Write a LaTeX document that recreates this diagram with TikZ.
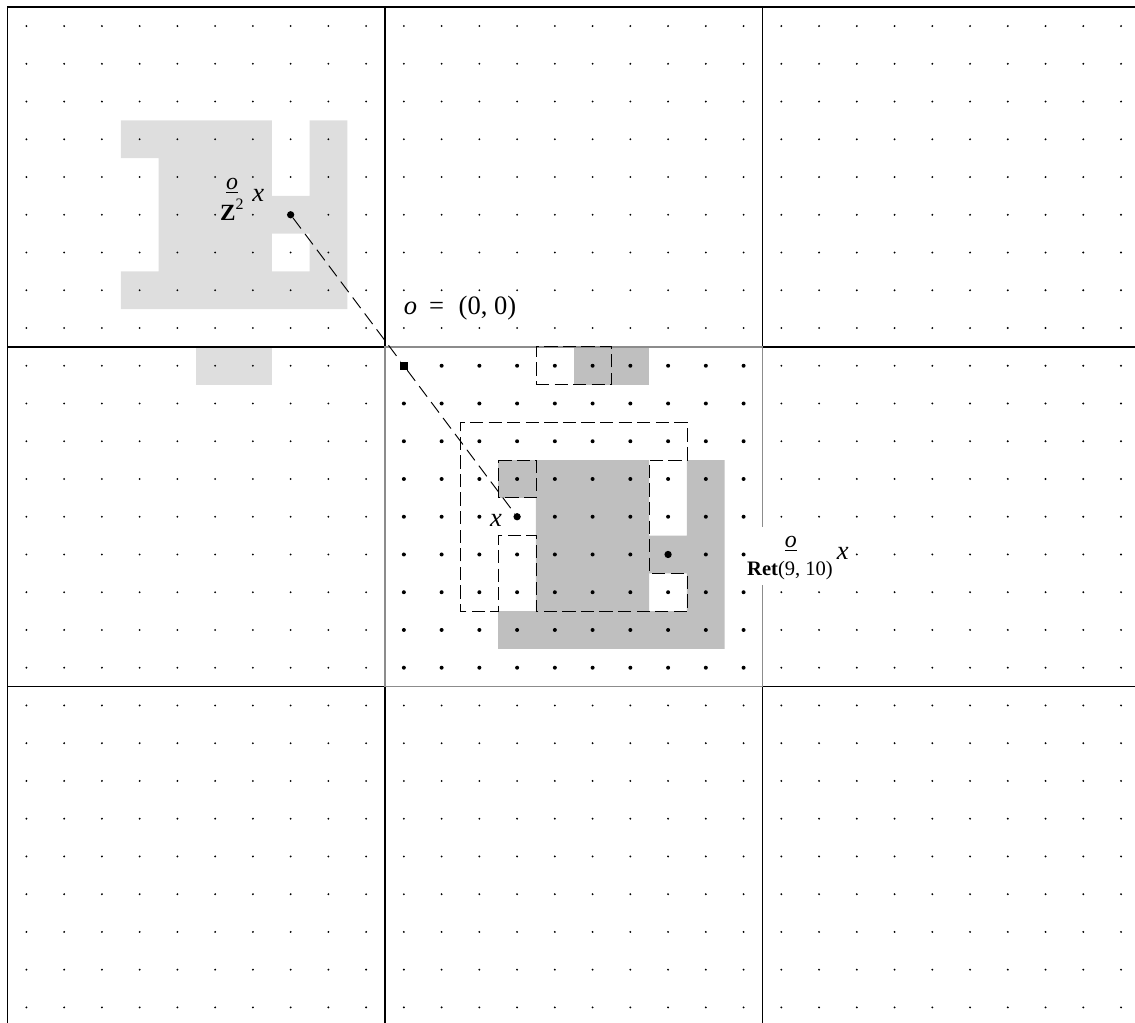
\documentclass[tikz,border=0pt]{standalone}
\usepackage{fontspec}
\setmainfont{Liberation Serif}
\begin{document}
\begin{tikzpicture}[x=1cm,y=1cm,
  blk/.style={draw=black, line width=1.05pt},
  midblk/.style={draw=black!45, line width=1.05pt},
  ptnode/.style={circle, fill=black, inner sep=0pt, minimum size=5.5pt},
  sqnode/.style={rectangle, fill=black, inner sep=0pt, minimum size=6.3pt},
  dsh/.style={draw=black, line width=0.7pt, dash pattern=on 10pt off 4pt},
  diag/.style={draw=black, line width=0.7pt, dash pattern=on 10pt off 5pt},
  lightg/.style={fill=black!13},
  darkg/.style={fill=black!25},
  smalllab/.style={inner sep=0pt, anchor=base, font=\fontsize{15.5}{18}\selectfont},
  olab/.style={inner sep=0pt, anchor=base, font=\fontsize{18}{20}\selectfont},
  biglab/.style={inner sep=0pt, anchor=base, font=\fontsize{20}{24}\selectfont},
]
\useasboundingbox (-10.2,-17.91) rectangle (19.87,9.19);

% light grey shape in Z^2
\fill[lightg, even odd rule]
  (-7,6) -- (-3,6) -- (-3,4) -- (-2,4) -- (-2,6) -- (-1,6) -- (-1,1) -- (-7,1)
  -- (-7,2) -- (-6,2) -- (-6,5) -- (-7,5) -- cycle
  (-3,2) -- (-2,2) -- (-2,3) -- (-3,3) -- cycle;
\fill[lightg] (-5,-1) rectangle (-3,0);

% dark grey shape in Ret(9,10)
\fill[darkg, even odd rule]
  (3,-3) -- (7,-3) -- (7,-5) -- (8,-5) -- (8,-3) -- (9,-3) -- (9,-8) -- (3,-8)
  -- (3,-7) -- (4,-7) -- (4,-4) -- (3,-4) -- cycle
  (7,-7) -- (8,-7) -- (8,-6) -- (7,-6) -- cycle;
\fill[darkg] (5,-1) rectangle (7,0);

% dots
\foreach \i in {-10,...,19}{
  \foreach \j in {-18,...,8}{
    \fill (\i+0.5,\j+0.5) circle (0.8pt);
  }
}
\foreach \i in {0,...,9}{
  \foreach \j in {-9,...,-1}{
    \fill (\i+0.5,\j+0.5) circle (1.5pt);
  }
}

% blocks
\foreach \a in {-10,0,10}{
  \foreach \b in {-18,-9,0}{
    \draw[blk] (\a,\b) rectangle ++(10,9);
  }
}
\draw[midblk] (0,-9) rectangle (10,0);

% dashed reflected shape
\draw[dsh] (8,-7) -- (4,-7) -- (4,-5) -- (3,-5) -- (3,-7) -- (2,-7) -- (2,-2)
  -- (8,-2) -- (8,-3) -- (7,-3) -- (7,-6) -- (8,-6) -- cycle;
\draw[dsh] (3,-3) -- (4,-3) -- (4,-4) -- (3,-4) -- cycle;
\draw[dsh] (4,-1) -- (6,-1) -- (6,0) -- (4,0) -- cycle;

% points
\node[ptnode] (zpt) at (-2.5,3.5) {};
\node[ptnode] (xpt) at (3.5,-4.5) {};
\node[ptnode] (rpt) at (7.5,-5.5) {};
\node[sqnode] (opt) at (0.5,-0.5) {};
\draw[diag] (zpt) -- (opt);
\draw[diag] (opt) -- (xpt);

% labels
\node[biglab] (olabel) at (1.99,0.85) {\textit{o}\hspace{0.45em}=\hspace{0.55em}(0, 0)};

\node[olab] (zo) at (-4.05,4.16) {\underline{\textit{o}}};
\node[inner sep=0pt, anchor=base, font=\fontsize{17.5}{20}\selectfont] (zz) at (-4.06,3.36) {\textbf{Z}\raisebox{0.45em}{\fontsize{12}{12}\selectfont 2}};
\node[biglab] (zxl) at (-3.36,3.84) {\textit{x}};

\node[biglab] (xl) at (2.94,-4.76) {\textit{x}};

\fill[white] (9.57,-4.76) rectangle (12.42,-6.3);
\node[olab] (ro) at (10.75,-5.32) {\underline{\textit{o}}};
\node[smalllab] (rr) at (10.73,-6.06) {\textbf{Ret}(9, 10)};
\node[biglab] (rxl) at (12.13,-5.64) {\textit{x}};
\end{tikzpicture}
\end{document}
